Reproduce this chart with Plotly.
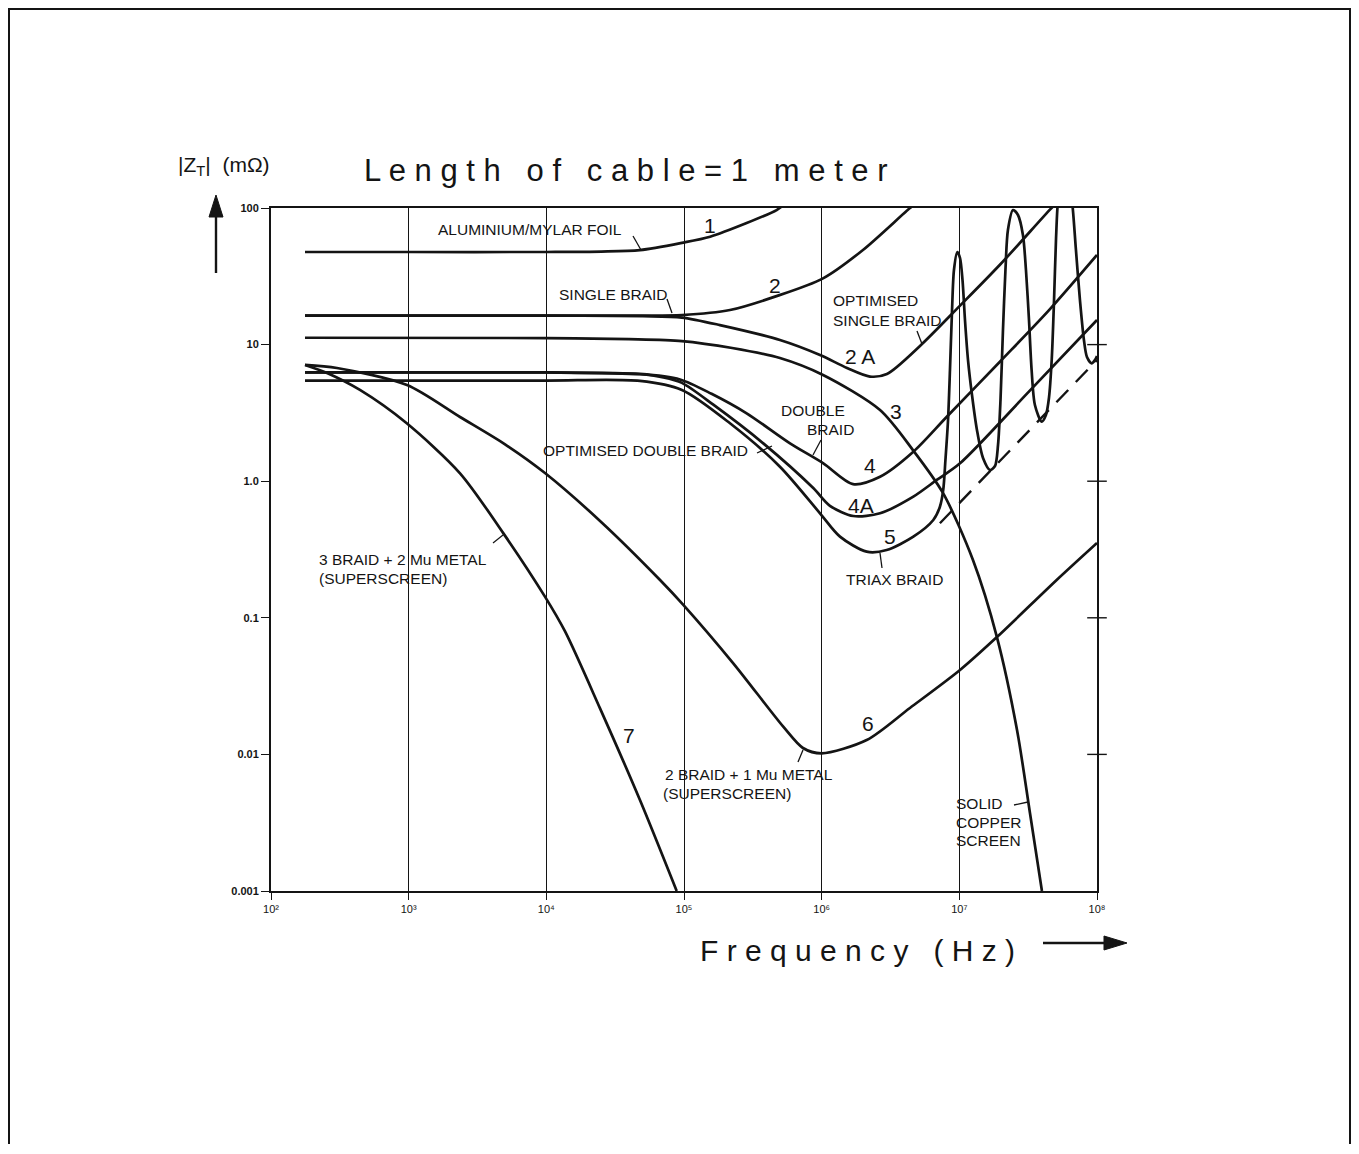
import plotly.graph_objects as go

# ---------------- data (log10 of frequency in Hz, log10 of |ZT| in mOhm) ----------------
x_ticks = [1e2, 1e3, 1e4, 1e5, 1e6, 1e7, 1e8]
x_ticktext = ["10²", "10³", "10⁴", "10⁵", "10⁶", "10⁷", "10⁸"]
y_ticks = [0.001, 0.01, 0.1, 1, 10, 100]
y_ticktext = ["0.001", "0.01", "0.1", "1.0", "10", "100"]
right_ticks = [10, 1, 0.1, 0.01]

# 1 aluminium/mylar foil
c1_logf = [2.247, 3.0, 4.0, 4.4, 4.68, 4.985, 5.19, 5.455, 5.673, 5.72]
c1_logz = [1.678, 1.678, 1.678, 1.681, 1.692, 1.745, 1.79, 1.89, 1.985, 2.02]
# 2 single braid
c2_logf = [2.247, 4.0, 4.7, 4.985, 5.334, 5.661, 6.01, 6.30, 6.642, 6.67]
c2_logz = [1.212, 1.212, 1.212, 1.216, 1.253, 1.351, 1.485, 1.693, 2.0, 2.02]
# 2A optimised single braid
c2a_logf = [2.247, 4.0, 4.7, 4.985, 5.261, 5.697, 5.988, 6.184, 6.351, 6.474, 6.714, 7.0, 7.3, 7.66, 7.70]
c2a_logz = [1.212, 1.212, 1.208, 1.198, 1.143, 1.034, 0.924, 0.829, 0.766, 0.785, 0.99, 1.28, 1.59, 1.99, 2.03]
# 3 solid copper screen
c3_logf = [2.247, 4.0, 4.6, 4.985, 5.35, 5.697, 6.01, 6.424, 6.663, 6.881, 7.099, 7.273, 7.419, 7.513, 7.60]
c3_logz = [1.05, 1.048, 1.04, 1.026, 0.975, 0.902, 0.778, 0.521, 0.228, -0.086, -0.577, -1.141, -1.821, -2.429, -3.0]
# 4 double braid
c4_logf = [2.247, 4.0, 4.68, 4.971, 5.2, 5.455, 5.770, 6.012, 6.228, 6.424, 6.666, 6.909, 7.3, 7.65, 8.0]
c4_logz = [0.796, 0.796, 0.785, 0.745, 0.64, 0.497, 0.277, 0.131, -0.021, 0.033, 0.216, 0.472, 0.88, 1.25, 1.656]
# 4A optimised double braid
c4a_logf = [2.247, 4.0, 4.68, 4.85, 4.985, 5.213, 5.576, 5.939, 6.06, 6.23, 6.424, 6.666, 6.836, 7.005, 7.5, 8.0]
c4a_logz = [0.796, 0.796, 0.783, 0.76, 0.72, 0.56, 0.277, -0.05, -0.18, -0.255, -0.235, -0.113, 0.009, 0.131, 0.65, 1.18]
# 5 triax braid (with resonances)
c5_logf = [2.247, 3.99, 4.68, 4.985, 5.334, 5.697, 5.988, 6.133, 6.327, 6.472, 6.666, 6.811, 6.859,
           6.883, 6.899, 6.918, 6.932, 6.947, 6.961, 6.985, 7.005, 7.023, 7.041, 7.063, 7.092, 7.128,
           7.172, 7.223, 7.259, 7.281, 7.299, 7.317, 7.335, 7.353, 7.390, 7.426, 7.462, 7.484, 7.506,
           7.525, 7.549, 7.598, 7.629, 7.651, 7.671, 7.688, 7.702, 7.717, 7.746, 7.775, 7.804, 7.825,
           7.847, 7.876, 7.905, 7.927, 7.961, 7.985, 8.0]
c5_logz = [0.737, 0.737, 0.734, 0.668, 0.424, 0.106, -0.235, -0.406, -0.516, -0.504, -0.406, -0.284, -0.187,
           -0.064, 0.155, 0.448, 0.814, 1.253, 1.546, 1.678, 1.634, 1.473, 1.180, 0.887, 0.631, 0.375,
           0.170, 0.082, 0.111, 0.265, 0.594, 1.107, 1.546, 1.839, 1.985, 1.949, 1.802, 1.546, 1.180,
           0.814, 0.558, 0.436, 0.485, 0.609, 0.887, 1.327, 1.766, 2.059, 2.242, 2.264, 2.168, 1.985,
           1.693, 1.327, 1.034, 0.909, 0.863, 0.887, 0.917]
# 5 without resonances (dashed)
c5d_logf = [6.859, 8.0]
c5d_logz = [-0.308, 0.887]
# 6 2 braid + 1 Mu metal
c6_logf = [2.247, 2.479, 2.988, 3.373, 3.7, 3.990, 4.4, 4.826, 4.995, 5.358, 5.721, 5.864, 6.0, 6.327, 6.641, 7.005, 7.273, 7.707, 8.0]
c6_logz = [0.851, 0.829, 0.704, 0.470, 0.27, 0.060, -0.30, -0.723, -0.905, -1.333, -1.797, -1.953, -1.992, -1.895, -1.66, -1.382, -1.141, -0.723, -0.452]
# 7 3 braid + 2 Mu metal
c7_logf = [2.247, 2.407, 2.646, 2.986, 3.373, 3.687, 3.990, 4.136, 4.390, 4.680, 4.947]
c7_logz = [0.851, 0.792, 0.668, 0.424, 0.058, -0.38, -0.845, -1.10, -1.663, -2.334, -3.0]

# ---------------- figure ----------------
INK = "#141414"
FONT = "Liberation Sans, Arial, sans-serif"
BODY = 8                       # default page margin around the plot div
W, H = 1343, 1136
L, R, T, B = 271, 1097, 208, 891   # plot box in page pixels


def P(px, py):
    return (px - L) / (R - L), (B - py) / (B - T)


fig = go.Figure()

solid = [(c1_logf, c1_logz), (c2_logf, c2_logz), (c2a_logf, c2a_logz), (c3_logf, c3_logz),
         (c4_logf, c4_logz), (c4a_logf, c4a_logz), (c5_logf, c5_logz), (c6_logf, c6_logz),
         (c7_logf, c7_logz)]
for lf, lz in solid:
    fig.add_trace(go.Scatter(x=[10 ** v for v in lf], y=[10 ** v for v in lz], mode="lines",
                             line=dict(color=INK, width=2.7, shape="spline", smoothing=0.8),
                             hoverinfo="skip", showlegend=False))
fig.add_trace(go.Scatter(x=[10 ** v for v in c5d_logf], y=[10 ** v for v in c5d_logz], mode="lines",
                         line=dict(color=INK, width=2.4, dash="17px,11px"),
                         hoverinfo="skip", showlegend=False))
# crossing tick marks on the right frame
fig.add_trace(go.Scatter(x=[1e8] * len(right_ticks), y=right_ticks, mode="markers",
                         marker=dict(symbol="line-ew", size=14, line=dict(width=1.4, color=INK)),
                         cliponaxis=False, hoverinfo="skip", showlegend=False))

fig.update_layout(
    width=W, height=H, autosize=False,
    margin=dict(l=L - BODY, r=W - (R - BODY), t=T - BODY, b=H - (B - BODY), pad=0),
    paper_bgcolor="white", plot_bgcolor="white",
    font=dict(family=FONT, color=INK),
    xaxis=dict(type="log", range=[2, 8], tickvals=x_ticks, ticktext=x_ticktext,
               showgrid=True, gridcolor=INK, gridwidth=1.2, zeroline=False,
               showline=True, linecolor=INK, linewidth=2, mirror=True,
               ticks="outside", ticklen=7, tickwidth=1.4, tickcolor=INK,
               tickfont=dict(family=FONT, size=11, color=INK)),
    yaxis=dict(type="log", range=[-3, 2], tickvals=y_ticks, ticktext=y_ticktext,
               showgrid=False, zeroline=False,
               showline=True, linecolor=INK, linewidth=2, mirror=True,
               ticks="outside", ticklen=8, tickwidth=1.4, tickcolor=INK,
               tickfont=dict(family=FONT, size=11, color=INK, weight="bold")),
)


def text(s, px, py, size=15.5, anchor="center"):
    x, y = P(px, py)
    fig.add_annotation(x=x, y=y, xref="paper", yref="paper", text=s, showarrow=False,
                       xanchor=anchor, yanchor="middle",
                       font=dict(family=FONT, size=size, color=INK))


def seg(p0, p1, width=1.3):
    x0, y0 = P(*p0)
    x1, y1 = P(*p1)
    fig.add_shape(type="line", xref="paper", yref="paper", x0=x0, y0=y0, x1=x1, y1=y1,
                  line=dict(color=INK, width=width))


def tri(pts):
    path = "M " + " L ".join("%.5f %.5f" % P(*p) for p in pts) + " Z"
    fig.add_shape(type="path", xref="paper", yref="paper", path=path,
                  fillcolor=INK, line=dict(color=INK, width=1))


# titles
text("L e n g t h   o f   c a b l e = 1   m e t e r", 626, 170, size=31)
text("|Z<sub>T</sub>|  (mΩ)", 224, 166, size=21)
text("F r e q u e n c y   ( H z )", 857, 950, size=30)
# axis arrows
seg((216, 273), (216, 212), width=2.4)
tri([(216, 195), (209, 217), (223, 217)])
seg((1043, 943), (1108, 943), width=2.4)
tri([(1127, 943), (1104, 936), (1104, 950)])

# curve labels
text("ALUMINIUM/MYLAR FOIL", 530, 230)
text("1", 710, 225, size=21)
text("SINGLE BRAID", 613, 294)
text("2", 775, 285, size=21)
text("OPTIMISED", 831, 300, anchor="left")
text("SINGLE BRAID", 831, 320, anchor="left")
text("2 A", 860, 356, size=21)
text("3", 896, 411, size=21)
text("DOUBLE", 813, 410)
text("BRAID", 830, 429)
text("4", 870, 466, size=21)
text("OPTIMISED DOUBLE BRAID", 645, 450)
text("4A", 861, 506, size=21)
text("5", 890, 536, size=21)
text("TRIAX BRAID", 894, 579)
text("3 BRAID + 2 Mu METAL", 317, 559, anchor="left")
text("(SUPERSCREEN)", 317, 578, anchor="left")
text("7", 629, 735, size=21)
text("6", 868, 723, size=21)
text("2 BRAID + 1 Mu METAL", 663, 774, anchor="left")
text("(SUPERSCREEN)", 661, 793, anchor="left")
text("SOLID", 954, 803, anchor="left")
text("COPPER", 954, 822, anchor="left")
text("SCREEN", 954, 840, anchor="left")

# leader lines
seg((633, 236), (641, 250))
seg((667, 299), (672, 313))
seg((917, 331), (922, 344))
seg((821, 440), (813, 455))
seg((757, 453), (772, 446))
seg((882, 568), (880, 553))
seg((493, 543), (503, 535))
seg((798, 762), (803, 750))
seg((1014, 805), (1028, 802))

# outer frame (bottom edge falls below the page)
x0, y0 = P(9, 1170)
x1, y1 = P(1350, 9)
fig.add_shape(type="rect", xref="paper", yref="paper", x0=x0, y0=y0, x1=x1, y1=y1,
              line=dict(color=INK, width=2), fillcolor="rgba(0,0,0,0)", layer="below")

fig.write_html("out.html")
